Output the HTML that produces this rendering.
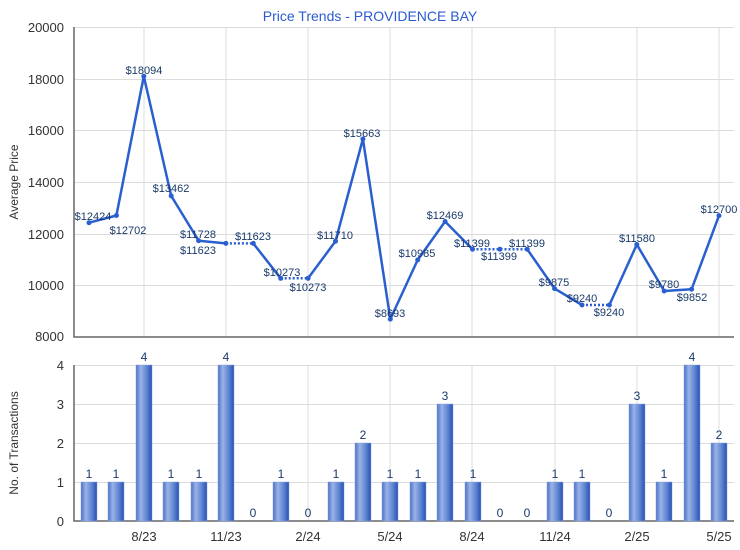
<!DOCTYPE html>
<html><head><meta charset="utf-8"><style>
html,body{margin:0;padding:0;background:#fff;}
svg{display:block;font-family:"Liberation Sans",sans-serif;}
</style></head><body>
<svg width="740" height="550" viewBox="0 0 740 550" xmlns="http://www.w3.org/2000/svg">
<defs>
<linearGradient id="bg" x1="0" x2="1" y1="0" y2="0">
<stop offset="0" stop-color="#4a70c8"/><stop offset="0.3" stop-color="#9ab3e6"/><stop offset="0.7" stop-color="#5a80d0"/><stop offset="1" stop-color="#2450b0"/>
</linearGradient>
</defs>
<text x="370" y="21" text-anchor="middle" font-size="14" fill="#2a5bd0">Price Trends - PROVIDENCE BAY</text>
<!-- top grid -->
<g stroke="#dcdcdc" stroke-width="1">
<line x1="74" x2="734" y1="27.5" y2="27.5"/><line x1="74" x2="734" y1="79.5" y2="79.5"/><line x1="74" x2="734" y1="130.5" y2="130.5"/><line x1="74" x2="734" y1="182.5" y2="182.5"/><line x1="74" x2="734" y1="234.5" y2="234.5"/><line x1="74" x2="734" y1="285.5" y2="285.5"/>
<line x1="144" x2="144" y1="27" y2="337"/><line x1="226" x2="226" y1="27" y2="337"/><line x1="308" x2="308" y1="27" y2="337"/><line x1="390" x2="390" y1="27" y2="337"/><line x1="472" x2="472" y1="27" y2="337"/><line x1="555" x2="555" y1="27" y2="337"/><line x1="637" x2="637" y1="27" y2="337"/><line x1="719" x2="719" y1="27" y2="337"/>
<line x1="74" x2="734" y1="404.5" y2="404.5"/><line x1="74" x2="734" y1="443.5" y2="443.5"/><line x1="74" x2="734" y1="482.5" y2="482.5"/><line x1="74" x2="734" y1="365.5" y2="365.5"/>
<line x1="144" x2="144" y1="365" y2="521"/><line x1="226" x2="226" y1="365" y2="521"/><line x1="308" x2="308" y1="365" y2="521"/><line x1="390" x2="390" y1="365" y2="521"/><line x1="472" x2="472" y1="365" y2="521"/><line x1="555" x2="555" y1="365" y2="521"/><line x1="637" x2="637" y1="365" y2="521"/><line x1="719" x2="719" y1="365" y2="521"/>
</g>
<g stroke="#666" stroke-width="1.5" fill="none">
<polyline points="74,27 74,337 734,337"/>
<polyline points="74,365 74,521 734,521"/>
</g>
<g font-size="13" fill="#333" text-anchor="end">
<text x="64" y="32">20000</text><text x="64" y="84">18000</text><text x="64" y="135">16000</text><text x="64" y="187">14000</text><text x="64" y="239">12000</text><text x="64" y="290">10000</text><text x="64" y="341">8000</text>
<text x="64" y="370">4</text><text x="64" y="409">3</text><text x="64" y="448">2</text><text x="64" y="487">1</text><text x="64" y="526">0</text>
</g>
<text transform="translate(18,182) rotate(-90)" text-anchor="middle" font-size="12" fill="#333">Average Price</text>
<text transform="translate(18,443) rotate(-90)" text-anchor="middle" font-size="12" fill="#333">No. of Transactions</text>
<g font-size="13" fill="#333" text-anchor="middle">
<text x="144" y="541">8/23</text><text x="226" y="541">11/23</text><text x="308" y="541">2/24</text><text x="390" y="541">5/24</text><text x="472" y="541">8/24</text><text x="555" y="541">11/24</text><text x="637" y="541">2/25</text><text x="719" y="541">5/25</text>
</g>
<!-- line -->
<g stroke="#2a5fd0" stroke-width="2.5" fill="none" stroke-linejoin="round">
<polyline points="89,222.7 116.4,215.5 143.8,76.2 171.2,195.9 198.6,240.7 225.9,243.4"/>
<polyline points="253.3,243.4 280.7,278.3"/>
<polyline points="308.1,278.3 335.5,241.2 362.9,139 390.3,319.1 417.7,259.9 445.1,221.5 472.5,249.2"/>
<polyline points="527.2,249.2 554.6,288.6 582,305"/>
<polyline points="609.4,305 636.8,244.5 664.2,291 691.6,289.2 719,215.6"/>
</g>
<g stroke="#2a5fd0" stroke-width="2.5" fill="none" stroke-dasharray="2,2">
<line x1="225.9" y1="243.4" x2="253.3" y2="243.4"/>
<line x1="280.7" y1="278.3" x2="308.1" y2="278.3"/>
<line x1="472.5" y1="249.2" x2="527.2" y2="249.2"/>
<line x1="582" y1="305" x2="609.4" y2="305"/>
</g>
<g fill="#2a5fd0">
<circle cx="89" cy="222.7" r="2.5"/><circle cx="116.4" cy="215.5" r="2.5"/><circle cx="143.8" cy="76.2" r="2.5"/><circle cx="171.2" cy="195.9" r="2.5"/><circle cx="198.6" cy="240.7" r="2.5"/><circle cx="225.9" cy="243.4" r="2.5"/><circle cx="253.3" cy="243.4" r="2.5"/><circle cx="280.7" cy="278.3" r="2.5"/><circle cx="308.1" cy="278.3" r="2.5"/><circle cx="335.5" cy="241.2" r="2.5"/><circle cx="362.9" cy="139" r="2.5"/><circle cx="390.3" cy="319.1" r="2.5"/><circle cx="417.7" cy="259.9" r="2.5"/><circle cx="445.1" cy="221.5" r="2.5"/><circle cx="472.5" cy="249.2" r="2.5"/><circle cx="499.9" cy="249.2" r="2.5"/><circle cx="527.2" cy="249.2" r="2.5"/><circle cx="554.6" cy="288.6" r="2.5"/><circle cx="582" cy="305" r="2.5"/><circle cx="609.4" cy="305" r="2.5"/><circle cx="636.8" cy="244.5" r="2.5"/><circle cx="664.2" cy="291" r="2.5"/><circle cx="691.6" cy="289.2" r="2.5"/><circle cx="719" cy="215.6" r="2.5"/>
</g>
<g font-size="11" fill="#1a3a6a" text-anchor="middle">
<text x="93" y="220">$12424</text><text x="128" y="234">$12702</text><text x="144" y="74">$18094</text><text x="171" y="192">$13462</text><text x="198" y="238">$11728</text><text x="198" y="254">$11623</text><text x="253" y="240">$11623</text><text x="282" y="276">$10273</text><text x="308" y="291">$10273</text><text x="335" y="239">$11710</text><text x="362" y="137">$15663</text><text x="390" y="317">$8693</text><text x="417" y="257">$10985</text><text x="445" y="219">$12469</text><text x="472" y="247">$11399</text><text x="499" y="260">$11399</text><text x="527" y="247">$11399</text><text x="554" y="286">$9875</text><text x="582" y="302">$9240</text><text x="609" y="316">$9240</text><text x="637" y="242">$11580</text><text x="664" y="288">$9780</text><text x="692" y="301">$9852</text><text x="719" y="213">$12700</text>
</g>
<!-- bars -->
<g fill="url(#bg)" stroke="#8aa6e0" stroke-width="0.5">
<rect x="81" y="482" width="16" height="39"/><rect x="108" y="482" width="16" height="39"/><rect x="136" y="365" width="16" height="156"/><rect x="163" y="482" width="16" height="39"/><rect x="191" y="482" width="16" height="39"/><rect x="218" y="365" width="16" height="156"/>
<rect x="273" y="482" width="16" height="39"/><rect x="328" y="482" width="16" height="39"/><rect x="355" y="443" width="16" height="78"/><rect x="382" y="482" width="16" height="39"/><rect x="410" y="482" width="16" height="39"/><rect x="437" y="404" width="16" height="117"/><rect x="465" y="482" width="16" height="39"/>
<rect x="547" y="482" width="16" height="39"/><rect x="574" y="482" width="16" height="39"/><rect x="629" y="404" width="16" height="117"/><rect x="656" y="482" width="16" height="39"/><rect x="684" y="365" width="16" height="156"/><rect x="711" y="443" width="16" height="78"/>
</g>
<g font-size="12" fill="#1a3a6a" text-anchor="middle">
<text x="89" y="478">1</text><text x="116" y="478">1</text><text x="144" y="361">4</text><text x="171" y="478">1</text><text x="199" y="478">1</text><text x="226" y="361">4</text><text x="253" y="517">0</text><text x="281" y="478">1</text><text x="308" y="517">0</text><text x="336" y="478">1</text><text x="363" y="439">2</text><text x="390" y="478">1</text><text x="418" y="478">1</text><text x="445" y="400">3</text><text x="473" y="478">1</text><text x="500" y="517">0</text><text x="527" y="517">0</text><text x="555" y="478">1</text><text x="582" y="478">1</text><text x="609" y="517">0</text><text x="637" y="400">3</text><text x="664" y="478">1</text><text x="692" y="361">4</text><text x="719" y="439">2</text>
</g>
</svg>
</body></html>
